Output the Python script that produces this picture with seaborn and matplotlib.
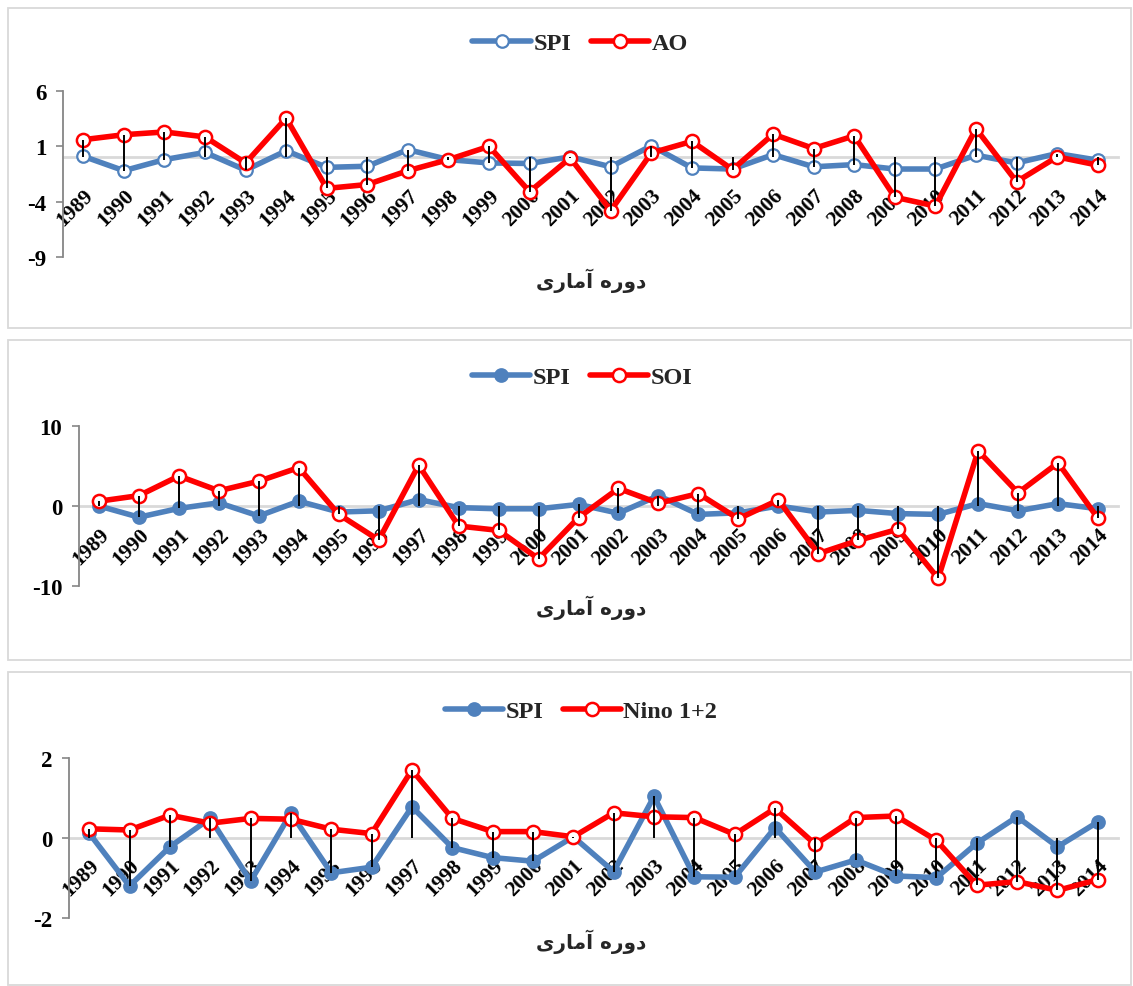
import numpy as np
import pandas as pd
import matplotlib
matplotlib.use("Agg")
import matplotlib.pyplot as plt
import seaborn as sns
from matplotlib.patches import Rectangle
from matplotlib.lines import Line2D

# ---------------- data ----------------
years = list(range(1989, 2015))

spi_ao = [0.1, -1.2, -0.2, 0.45, -1.15, 0.6, -0.9, -0.8, 0.7, -0.2, -0.5, -0.55, 0.05,
          -0.85, 1.05, -0.95, -1.05, 0.25, -0.85, -0.65, -1.05, -1.05, 0.2, -0.5, 0.35, -0.25]
ao = [1.6, 2.05, 2.3, 1.85, -0.5, 3.55, -2.8, -2.45, -1.2, -0.2, 1.0, -3.1, -0.05,
      -4.8, 0.4, 1.45, -1.1, 2.1, 0.8, 1.95, -3.6, -4.4, 2.6, -2.2, 0.05, -0.7]

spi_soi = [0.0, -1.4, -0.3, 0.4, -1.25, 0.6, -0.75, -0.6, 0.8, -0.2, -0.35, -0.35, 0.2,
           -0.9, 1.3, -1.05, -0.85, 0.0, -0.75, -0.55, -0.95, -1.05, 0.3, -0.6, 0.3, -0.35]
soi = [0.6, 1.3, 3.75, 1.9, 3.1, 4.8, -1.05, -4.25, 5.1, -2.5, -3.05, -6.6, -1.45,
       2.2, 0.35, 1.55, -1.6, 0.75, -5.95, -4.3, -2.9, -9.05, 6.9, 1.65, 5.4, -1.55]

spi_nino = [0.12, -1.2, -0.22, 0.49, -1.08, 0.62, -0.87, -0.73, 0.78, -0.24, -0.49, -0.58, 0.03,
            -0.84, 1.04, -0.97, -0.98, 0.26, -0.85, -0.55, -0.95, -0.99, -0.13, 0.53, -0.22, 0.4]
nino = [0.23, 0.2, 0.57, 0.37, 0.49, 0.47, 0.22, 0.11, 1.7, 0.49, 0.16, 0.16, 0.03,
        0.63, 0.53, 0.51, 0.09, 0.74, -0.16, 0.51, 0.55, -0.06, -1.18, -1.09, -1.31, -1.04]

series_names = ["AO", "SOI", "Nino 1+2"]
# "دوره آماری" written in visual (left-to-right) order with Arabic presentation forms
axis_title = "\uFBFC\uFEAD\uFE8E\uFEE3\uFE81 \uFEE9\uFEAD\uFEED\uFEA9"

# ---------------- style ----------------
sns.set_theme(style="white")
plt.rcParams["font.family"] = ["Liberation Serif", "DejaVu Sans"]
plt.rcParams["font.weight"] = "bold"

BLUE = "#4F81BD"
RED = "#FF0000"
W, H = 1133, 987
fig = plt.figure(figsize=(W / 100, H / 100), dpi=100)

panels = [
    dict(box=(8, 9, 1131, 329), ax=(63, 1118, 92, 258), ylim=(-9, 6), yticks=[-9, -4, 1, 6],
         spi=spi_ao, idx=ao, name=series_names[0], spi_fill="white", leg=(580, 44), title=(591, 281), pad=20),
    dict(box=(8, 341, 1131, 661), ax=(79, 1118, 427, 587), ylim=(-10, 10), yticks=[-10, 0, 10],
         spi=spi_soi, idx=soi, name=series_names[1], spi_fill=BLUE, leg=(582, 378), title=(591, 608), pad=13),
    dict(box=(8, 673, 1131, 986), ax=(69, 1118, 759, 919), ylim=(-2, 2), yticks=[-2, 0, 2],
         spi=spi_nino, idx=nino, name=series_names[2], spi_fill=BLUE, leg=(581, 712), title=(591, 942), pad=12),
]

for p in panels:
    x0, y0, x1, y1 = p["box"]
    fig.patches.append(Rectangle((x0 / W, 1 - y1 / H), (x1 - x0) / W, (y1 - y0) / H,
                                 transform=fig.transFigure, fill=False,
                                 edgecolor="#d9d9d9", linewidth=1.3))
    l, r, t, b = p["ax"]
    ax = fig.add_axes([l / W, 1 - b / H, (r - l) / W, (b - t) / H])
    ax.set_facecolor("none")

    df = pd.DataFrame({"year": years, "SPI": p["spi"], p["name"]: p["idx"]})
    sns.lineplot(data=df, x="year", y="SPI", ax=ax, color=BLUE, linewidth=4,
                 marker="o", markersize=9, markerfacecolor=p["spi_fill"],
                 markeredgecolor=BLUE, markeredgewidth=1.6, legend=False, zorder=3)
    sns.lineplot(data=df, x="year", y=p["name"], ax=ax, color=RED, linewidth=4,
                 marker="o", markersize=9.5, markerfacecolor="white",
                 markeredgecolor=RED, markeredgewidth=1.8, legend=False, zorder=4)

    s = np.asarray(p["spi"]); v = np.asarray(p["idx"])
    lo = np.minimum(np.minimum(s, v), 0)
    hi = np.maximum(np.maximum(s, v), 0)
    ax.vlines(years, lo, hi, color="black", linewidth=1.4, zorder=5)

    ax.set_xlim(years[0] - 0.5, years[-1] + 0.5)
    ax.set_ylim(*p["ylim"])
    ax.set_yticks(p["yticks"])
    ax.set_yticklabels([str(t) for t in p["yticks"]])
    ax.set_xticks(years)
    ax.set_xticklabels([str(y) for y in years])
    ax.set_xlabel("")
    ax.set_ylabel("")
    ax.grid(False)

    for side in ("top", "right"):
        ax.spines[side].set_visible(False)
    ax.spines["left"].set_color("#868686")
    ax.spines["left"].set_linewidth(1.3)
    ax.spines["bottom"].set_position(("data", 0))
    ax.spines["bottom"].set_color("#d9d9d9")
    ax.spines["bottom"].set_linewidth(2)
    ax.spines["bottom"].set_zorder(1)

    ax.tick_params(axis="y", direction="out", length=5, width=1.2, color="#868686",
                   labelsize=16.5, labelcolor="black", pad=7, left=True)
    ax.tick_params(axis="x", length=0, labelsize=15.5, labelcolor="black", pad=p["pad"])
    for lab in ax.get_yticklabels():
        lab.set_fontweight("bold")
    for lab in ax.get_xticklabels():
        lab.set_rotation(45)
        lab.set_ha("right")
        lab.set_va("top")
        lab.set_rotation_mode("anchor")
        lab.set_fontweight("bold")

    handles = [
        Line2D([], [], color=BLUE, linewidth=4, marker="o", markersize=9,
               markerfacecolor=p["spi_fill"], markeredgecolor=BLUE, markeredgewidth=1.6),
        Line2D([], [], color=RED, linewidth=4, marker="o", markersize=9.5,
               markerfacecolor="white", markeredgecolor=RED, markeredgewidth=1.8),
    ]
    cx, cy = p["leg"]
    fig.legend(handles, ["SPI", p["name"]], loc="center", bbox_to_anchor=(cx / W, 1 - cy / H),
               ncol=2, frameon=False, handlelength=2.4, handletextpad=0.1, columnspacing=0.8,
               prop=dict(family=["Liberation Serif", "DejaVu Sans"], weight="bold", size=17.5))

    tx, ty = p["title"]
    fig.text(tx / W, 1 - ty / H, axis_title, ha="center", va="center", fontsize=14.5,
             fontweight="bold", family=["DejaVu Sans"])

fig.savefig("out.png", dpi=100)
